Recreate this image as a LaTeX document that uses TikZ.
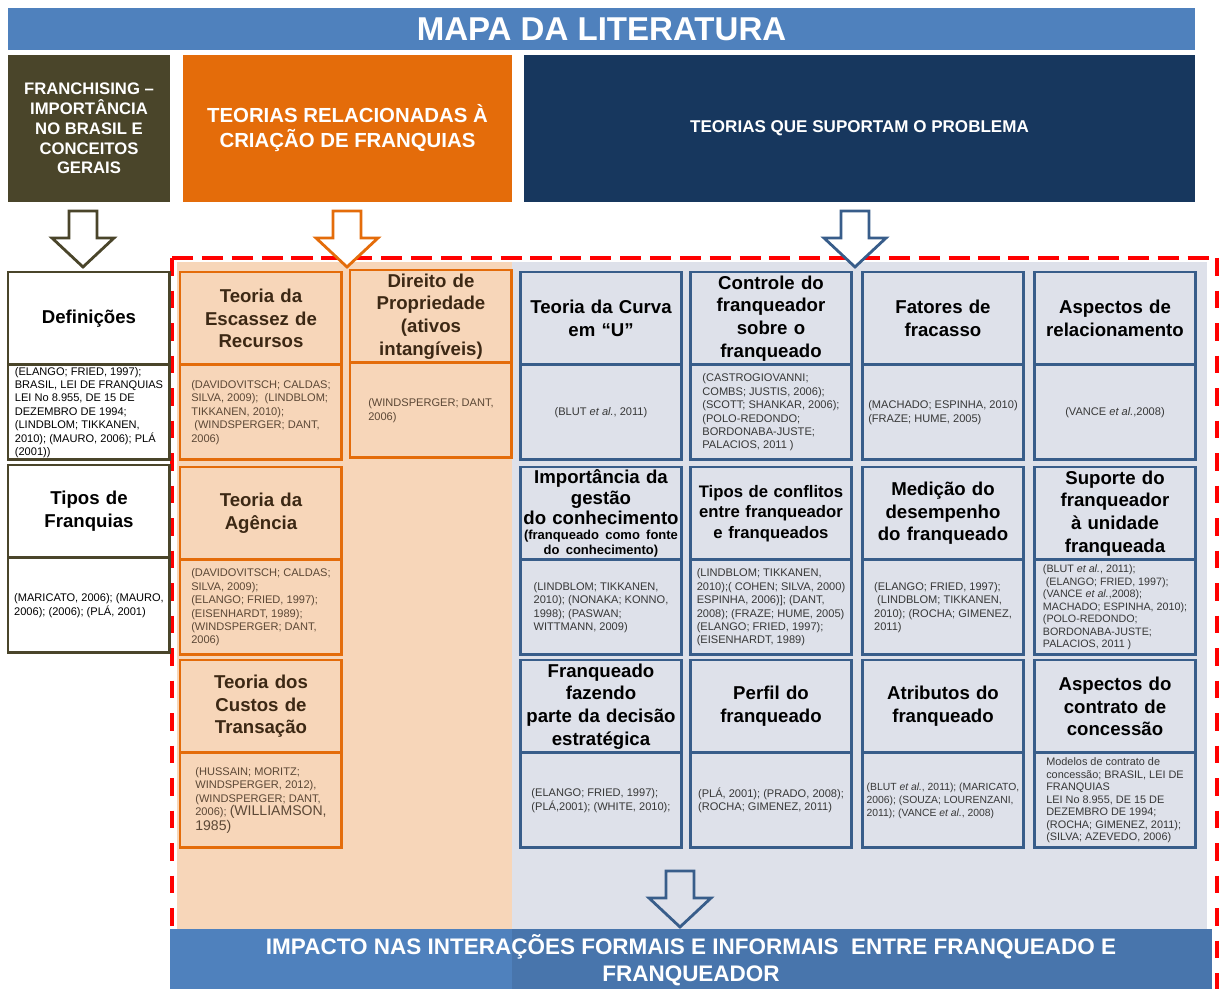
\documentclass[tikz,border=0pt]{standalone}
\usepackage{fontspec}
\setmainfont{Liberation Sans}
\usetikzlibrary{positioning}
\definecolor{mapa}{RGB}{79,129,189}
\definecolor{impacto}{RGB}{72,117,172}
\definecolor{geral}{RGB}{74,69,42}
\definecolor{cria}{RGB}{228,108,10}
\definecolor{prob}{RGB}{23,55,94}
\definecolor{borda}{RGB}{56,93,138}
\definecolor{pes}{RGB}{247,214,185}
\definecolor{cin}{RGB}{222,225,234}
\definecolor{marr}{RGB}{60,40,20}
\definecolor{marrt}{RGB}{92,72,54}
\definecolor{txt}{RGB}{55,55,55}
\hyphenpenalty=10000
\exhyphenpenalty=10000

\tikzset{
  titulo/.style={draw, line width=1.7pt, outer sep=0pt, anchor=north west,
    minimum width=3.24cm, minimum height=1.86cm, text width=3.16cm,
    align=center, inner sep=1pt, font=\bfseries\fontsize{10.6}{12.9}\selectfont},
  refs/.style={draw, line width=1.7pt, outer sep=0pt, minimum width=3.24cm,
    minimum height=1.9cm, align=left, inner sep=1pt,
    font=\fontsize{6.3}{7.6}\selectfont},
  geralT/.style={titulo, draw=geral, fill=white},
  geralR/.style={refs, draw=geral, fill=white},
  criaT/.style={titulo, draw=cria, fill=pes, text=marr},
  criaR/.style={refs, draw=cria, fill=pes, text=marrt},
  probT/.style={titulo, draw=borda, fill=cin},
  probR/.style={refs, draw=borda, fill=cin, text=txt},
  cabec/.style={text=white, align=center, inner sep=0pt, font=\bfseries},
  moldura/.style={draw=red, line width=2.3pt},
  seta/.pic={
    \draw[line width=1.6pt, pic actions] (-14,0) -- (14,0) -- (14,27) -- (31,27)
      -- (0,56) -- (-31,27) -- (-14,27) -- cycle;
  }
}

\begin{document}
\begin{tikzpicture}[x=0.02cm, y=-0.02cm]
  \useasboundingbox (0,0) rectangle (1219,989);

  % fundos das teorias
  \fill[pes] (177,262) rectangle (512,929);
  \fill[cin] (512,262) rectangle (1207,929);

  % cabecalhos
  \node[cabec, fill=mapa, minimum width=23.74cm, minimum height=0.84cm,
    font=\bfseries\fontsize{18.8}{20}\selectfont] (mapa) at (601.5,29) {MAPA DA LITERATURA};
  \node[cabec, fill=geral, minimum width=3.24cm, minimum height=2.94cm,
    font=\bfseries\fontsize{9.5}{11.3}\selectfont] (hdGeral) at (89,128.5)
    {FRANCHISING –\\ IMPORTÂNCIA\\ NO BRASIL E\\ CONCEITOS\\ GERAIS};
  \node[cabec, fill=cria, minimum width=6.58cm, minimum height=2.94cm,
    font=\bfseries\fontsize{11.6}{14.2}\selectfont] (hdCriacao) at (347.5,128.5)
    {TEORIAS RELACIONADAS À\\ CRIAÇÃO DE FRANQUIAS};
  \node[cabec, fill=prob, minimum width=13.42cm, minimum height=2.94cm,
    font=\bfseries\fontsize{9.7}{11}\selectfont] (hdProblema) at (859.5,128.5)
    {TEORIAS QUE SUPORTAM O PROBLEMA};

  % moldura tracejada
  \draw[moldura, dash pattern=on 12pt off 5pt] (172,258) -- (1217,258);
  \draw[moldura, dash pattern=on 10pt off 8.5pt] (172,258) -- (172,989);
  \draw[moldura, dash pattern=on 10pt off 8.5pt] (1217,258) -- (1217,989);

  % setas
  \pic[draw=geral, fill=white] at (83,211) {seta};
  \pic[draw=cria, fill=white] at (347,211) {seta};
  \pic[draw=borda, fill=white] at (855,211) {seta};
  \pic[draw=borda] at (680,871) {seta};

  % conceitos gerais
  \node[geralT] (tDef) at (8,272) {Definições};
  \node[geralR] (rDef) [below=0pt of tDef]
    {(ELANGO; FRIED, 1997);\\ BRASIL, LEI DE FRANQUIAS\\ LEI No 8.955, DE 15 DE\\
     DEZEMBRO DE 1994;\\ (LINDBLOM; TIKKANEN,\\ 2010); (MAURO, 2006); PLÁ\\ (2001))};
  \node[geralT] (tTipos) at (8,465) {Tipos de\\ Franquias};
  \node[geralR] (rTipos) [below=0pt of tTipos]
    {(MARICATO, 2006); (MAURO,\\ 2006); (2006); (PLÁ, 2001)};

  % criacao de franquias
  \node[criaT] (tEscassez) at (180,272) {Teoria da\\ Escassez de\\ Recursos};
  \node[criaR] (rEscassez) [below=0pt of tEscassez]
    {(DAVIDOVITSCH; CALDAS;\\ SILVA, 2009);~~(LINDBLOM;\\ TIKKANEN, 2010);\\
     ~(WINDSPERGER; DANT,\\ 2006)};
  \node[criaT] (tAgencia) at (180,467) {Teoria da\\ Agência};
  \node[criaR] (rAgencia) [below=0pt of tAgencia]
    {(DAVIDOVITSCH; CALDAS;\\ SILVA, 2009);\\ (ELANGO; FRIED, 1997);\\
     (EISENHARDT, 1989);\\ (WINDSPERGER; DANT,\\ 2006)};
  \node[criaT] (tCustos) at (180,660) {Teoria dos\\ Custos de\\ Transação};
  \node[criaR] (rCustos) [below=0pt of tCustos]
    {(HUSSAIN; MORITZ;\\ WINDSPERGER, 2012),\\ (WINDSPERGER; DANT,\\
     2006); {\fontsize{8}{9.5}\selectfont(WILLIAMSON,}\\[1pt] {\fontsize{8}{9.5}\selectfont 1985)}};
  \node[criaT] (tDireito) at (350,270) {Direito de\\ Propriedade\\ (ativos\\ intangíveis)};
  \node[criaR] (rDireito) [below=0pt of tDireito] {(WINDSPERGER; DANT,\\ 2006)};

  % teorias do problema, linha 1
  \node[probT] (tCurva) at (520,272) {Teoria da Curva\\ em “U”};
  \node[probR] (rCurva) [below=0pt of tCurva] {(BLUT \textit{et al.}, 2011)};
  \node[probT] (tControle) at (690,272) {Controle do\\ franqueador\\ sobre o\\ franqueado};
  \node[probR] (rControle) [below=0pt of tControle]
    {(CASTROGIOVANNI;\\ COMBS; JUSTIS, 2006);\\ (SCOTT; SHANKAR, 2006);\\
     (POLO-REDONDO;\\ BORDONABA-JUSTE;\\ PALACIOS, 2011 )};
  \node[probT] (tFatores) at (862,272) {Fatores de\\ fracasso};
  \node[probR] (rFatores) [below=0pt of tFatores]
    {(MACHADO; ESPINHA, 2010)\\ (FRAZE; HUME, 2005)};
  \node[probT] (tRelac) at (1034,272) {Aspectos de\\ relacionamento};
  \node[probR] (rRelac) [below=0pt of tRelac] {(VANCE \textit{et al.},2008)};

  % linha 2
  \node[probT, font=\bfseries\fontsize{10.6}{11.6}\selectfont] (tGestao) at (520,467)
    {Importância da\\ gestão\\ do conhecimento\\
     {\fontsize{7.4}{8.4}\selectfont(franqueado como fonte\\ do conhecimento)\par}};
  \node[probR] (rGestao) [below=0pt of tGestao]
    {(LINDBLOM; TIKKANEN,\\ 2010); (NONAKA; KONNO,\\ 1998); (PASWAN;\\ WITTMANN, 2009)};
  \node[probT, font=\bfseries\fontsize{9.5}{11.6}\selectfont] (tConflitos) at (690,467)
    {Tipos de conflitos\\ entre franqueador\\ e franqueados};
  \node[probR] (rConflitos) [below=0pt of tConflitos]
    {(LINDBLOM; TIKKANEN,\\ 2010);( COHEN; SILVA, 2000)\\ ESPINHA, 2006)]; (DANT,\\
     2008); (FRAZE; HUME, 2005)\\ (ELANGO; FRIED, 1997);\\ (EISENHARDT, 1989)};
  \node[probT] (tMedicao) at (862,467) {Medição do\\ desempenho\\ do franqueado};
  \node[probR] (rMedicao) [below=0pt of tMedicao]
    {(ELANGO; FRIED, 1997);\\ ~(LINDBLOM; TIKKANEN,\\ 2010); (ROCHA; GIMENEZ,\\ 2011)};
  \node[probT] (tSuporte) at (1034,467) {Suporte do\\ franqueador\\ à unidade\\ franqueada};
  \node[probR, font=\fontsize{6.1}{7.1}\selectfont] (rSuporte) [below=0pt of tSuporte]
    {(BLUT \textit{et al.}, 2011);\\ ~(ELANGO; FRIED, 1997);\\ (VANCE \textit{et al.},2008);\\
     MACHADO; ESPINHA, 2010);\\ (POLO-REDONDO;\\ BORDONABA-JUSTE;\\ PALACIOS, 2011 )};

  % linha 3
  \node[probT] (tDecisao) at (520,660) {Franqueado\\ fazendo\\ parte da decisão\\ estratégica};
  \node[probR] (rDecisao) [below=0pt of tDecisao]
    {(ELANGO; FRIED, 1997);\\ (PLÁ,2001); (WHITE, 2010);};
  \node[probT] (tPerfil) at (690,660) {Perfil do\\ franqueado};
  \node[probR] (rPerfil) [below=0pt of tPerfil]
    {(PLÁ, 2001); (PRADO, 2008);\\ (ROCHA; GIMENEZ, 2011)};
  \node[probT] (tAtributos) at (862,660) {Atributos do\\ franqueado};
  \node[probR, font=\fontsize{5.9}{7.4}\selectfont] (rAtributos) [below=0pt of tAtributos]
    {(BLUT \textit{et al.}, 2011); (MARICATO,\\ 2006); (SOUZA; LOURENZANI,\\
     2011); (VANCE \textit{et al.}, 2008)};
  \node[probT] (tContrato) at (1034,660) {Aspectos do\\ contrato de\\ concessão};
  \node[probR, font=\fontsize{6.2}{7.1}\selectfont] (rContrato) [below=0pt of tContrato]
    {Modelos de contrato de\\ concessão; BRASIL, LEI DE\\ FRANQUIAS\\ LEI No 8.955, DE 15 DE\\
     DEZEMBRO DE 1994;\\ (ROCHA; GIMENEZ, 2011);\\ (SILVA; AZEVEDO, 2006)};

  % faixa de impacto
  \fill[mapa] (170,929) rectangle (512,989);
  \fill[impacto] (512,929) rectangle (1212,989);
  \node[cabec, font=\bfseries\fontsize{12.8}{15.3}\selectfont] (impacto) at (691,960)
    {IMPACTO NAS INTERAÇÕES FORMAIS E INFORMAIS~~ENTRE FRANQUEADO E\\ FRANQUEADOR};
\end{tikzpicture}
\end{document}
